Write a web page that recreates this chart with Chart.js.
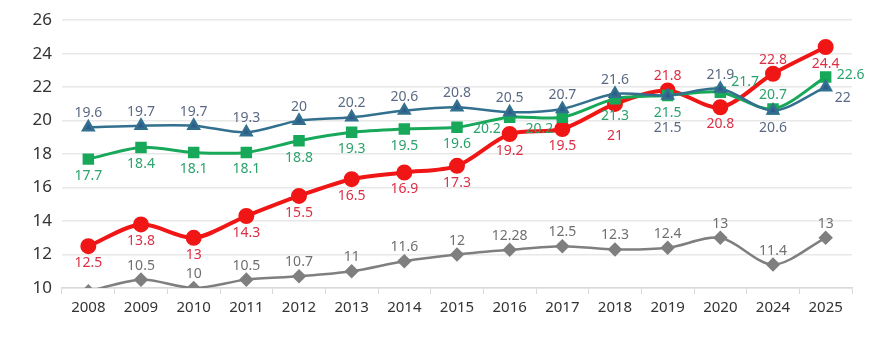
<!DOCTYPE html>
<html>
<head>
<meta charset="utf-8">
<script src="https://cdn.jsdelivr.net/npm/chart.js@4.4.1/dist/chart.umd.min.js"></script>
<style>
  html, body { margin: 0; padding: 0; background: #fff; }
  #wrap { width: 874px; height: 353px; }
</style>
</head>
<body>
<div id="wrap"><canvas id="mainChart" width="874" height="353"></canvas></div>
<script>
// Datos del gráfico
const years = ['2008', '2009', '2010', '2011', '2012', '2013', '2014', '2015', '2016', '2017', '2018', '2019', '2020', '2024', '2025'];
const blueValues  = [19.6, 19.7, 19.7, 19.3, 20, 20.2, 20.6, 20.8, 20.5, 20.7, 21.6, 21.5, 21.9, 20.6, 22];
const greenValues = [17.7, 18.4, 18.1, 18.1, 18.8, 19.3, 19.5, 19.6, 20.2, 20.2, 21.3, 21.5, 21.7, 20.7, 22.6];
const redValues   = [12.5, 13.8, 13, 14.3, 15.5, 16.5, 16.9, 17.3, 19.2, 19.5, 21, 21.8, 20.8, 22.8, 24.4];
const grayValues  = [9.8, 10.5, 10, 10.5, 10.7, 11, 11.6, 12, 12.28, 12.5, 12.3, 12.4, 13, 11.4, 13];
const yTicks = [10, 12, 14, 16, 18, 20, 22, 24, 26];

// Posición de etiquetas (a = arriba, b = abajo, bb = más abajo, l = izquierda, r = derecha, n = ninguna)
const labelPos = {
    blue:  ['a','a','a','a','a','a','a','a','a','a','a','bb','a','b','br'],
    green: ['b','b','b','b','b','b','b','b','l','l','b','b','ru','a','r'],
    red:   ['b','b','b','b','b','b','b','b','b','b','bb','a','b','a','b'],
    gray:  ['n','a','a','a','a','a','a','a','a','a','a','a','a','a','a']
};

const FONT = "'Noto Sans', 'Open Sans', sans-serif";

const pointLabels = {
    id: 'pointLabels',
    afterDatasetsDraw(chart) {
        const ctx = chart.ctx;
        ctx.save();
        ctx.font = '14px ' + FONT;
        ctx.textBaseline = 'middle';
        chart.data.datasets.forEach((ds, di) => {
            const meta = chart.getDatasetMeta(di);
            const pos = labelPos[ds.key];
            meta.data.forEach((pt, i) => {
                const p = pos[i];
                if (p === 'n') return;
                let x = pt.x, y = pt.y;
                ctx.textAlign = 'center';
                if (p === 'a') y -= 14;
                else if (p === 'b') y += 17;
                else if (p === 'bb') y += 32;
                else if (p === 'l') { x -= 9; y += 12; ctx.textAlign = 'right'; }
                else if (p === 'ru') { x += 11; y -= 10; ctx.textAlign = 'left'; }
                else if (p === 'r') { x += 11; y -= 2; ctx.textAlign = 'left'; }
                else if (p === 'br') { x += 9; y += 11; ctx.textAlign = 'left'; }
                ctx.fillStyle = ds.labelColor;
                ctx.fillText(String(ds.data[i]), x, y);
            });
        });
        ctx.restore();
    }
};

Chart.defaults.font.family = FONT;
Chart.defaults.color = '#333';

const ctxMain = document.getElementById('mainChart').getContext('2d');
new Chart(ctxMain, {
    type: 'line',
    data: {
        labels: years,
        datasets: [
            { key: 'gray', data: grayValues, borderColor: '#7f7f7f', backgroundColor: '#7f7f7f', labelColor: '#707070',
              borderWidth: 2.5, pointStyle: 'rectRot', pointRadius: 5.5, tension: 0.3 },
            { key: 'blue', data: blueValues, borderColor: '#33708f', backgroundColor: '#2d5b8c', labelColor: '#5b6a84',
              borderWidth: 2.5, pointStyle: 'triangle', pointRadius: 6, tension: 0.3 },
            { key: 'green', data: greenValues, borderColor: '#17a85a', backgroundColor: '#17a85a', labelColor: '#2ba36c',
              borderWidth: 3, pointStyle: 'rect', pointRadius: 6, tension: 0.3 },
            { key: 'red', data: redValues, borderColor: '#f01616', backgroundColor: '#f01616', labelColor: '#dc2f45',
              borderWidth: 4, pointStyle: 'circle', pointRadius: 6, tension: 0.3 }
        ]
    },
    options: {
        responsive: false,
        animation: false,
        layout: { padding: { left: 0, right: 22, top: 20, bottom: 0 } },
        plugins: { legend: { display: false }, tooltip: { enabled: false } },
        scales: {
            x: {
                offset: true,
                grid: { offset: true, drawOnChartArea: false, drawTicks: true, tickLength: 6, color: '#d9d9d9' },
                border: { color: '#d9d9d9', width: 1.5 },
                ticks: { color: '#333', font: { size: 15 }, padding: 5 },
                afterFit(scale) { scale.height = 65; }
            },
            y: {
                min: 10, max: 26,
                afterBuildTicks(scale) { scale.ticks = yTicks.map(v => ({ value: v })); },
                grid: { color: '#e8e8e8', drawTicks: false, lineWidth: 1.5 },
                border: { display: false },
                ticks: { color: '#333', font: { size: 17 }, padding: 10 },
                afterFit(scale) { scale.width = 62; }
            }
        }
    },
    plugins: [pointLabels]
});
</script>
</body>
</html>
